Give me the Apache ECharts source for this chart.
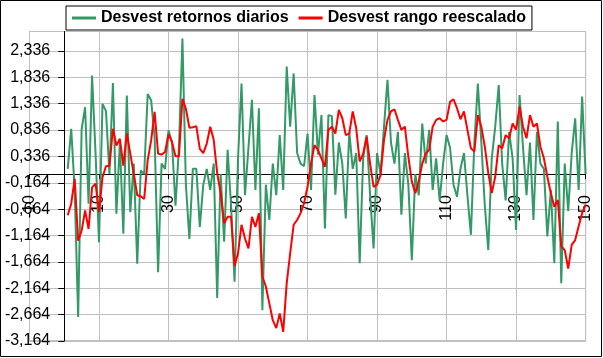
<!DOCTYPE html>
<html>
<head>
<meta charset="utf-8">
<script src="https://cdn.jsdelivr.net/npm/echarts@6/dist/echarts.min.js"></script>
<style>
html,body{margin:0;padding:0;background:#fff;}
#chart{width:603px;height:358px;}
</style>
</head>
<body>
<div id="chart"></div>
<script>
// Series names
var seriesNames = ["Desvest retornos diarios", "Desvest rango reescalado"];
// Observation numbers 1..150 are implicit (index + 1)
var retornos = [
 0.10, 0.86, -0.30, -2.71, 0.85, 1.27, -0.56, 1.87, 0.40, -1.29,
 1.33, 1.20, 0.00, 1.73, -0.75, 0.60, -1.13, 1.49, -0.72, 0.20,
 -1.70, 0.07, 0.00, 1.52, 1.40, 0.70, -1.86, 0.20, 0.10, 0.83,
 0.60, -0.60, 0.50, 2.57, -0.20, -1.23, 0.10, 0.10, -1.00, -0.20,
 0.10, -0.30, 0.20, -2.35, 0.00, -1.28, 0.46, -0.60, -2.04, 0.30,
 1.72, -0.40, 0.50, 1.41, -0.30, 1.25, -2.58, -0.20, -0.87, 0.20,
 -0.40, 0.74, -0.30, 2.04, 0.90, 1.91, 0.40, 0.20, 0.15, 0.77,
 -0.30, 1.50, 0.37, 1.12, -1.03, 1.12, 1.10, -0.39, 0.60, 0.20,
 -0.84, 0.80, 0.10, 0.40, -1.69, 0.30, 0.74, -0.40, -1.41, 0.40,
 0.00, 0.90, 1.79, 0.60, 0.20, 0.80, -0.77, 0.40, -0.20, -1.63,
 0.00, -0.40, 0.96, 0.20, 0.84, -0.30, 0.30, -0.50, 0.20, 0.74,
 0.50, -0.20, -0.43, 0.10, 0.40, -0.40, -1.15, 0.60, 1.72, 0.60,
 -0.60, -1.44, 0.30, 0.90, 1.69, 0.20, -0.50, 0.80, 0.30, -1.06,
 1.50, 0.50, -0.40, 0.60, -0.87, 0.80, 0.20, 0.10, -1.18, -0.30,
 -1.69, 1.00, -2.07, 0.20, -0.70, 0.40, 1.06, -0.30, 1.47, 0.00
];
var rango = [
 -0.78, -0.56, -0.09, -1.26, -1.07, -0.69, -1.04, -0.25, -0.18, -0.72,
 -0.06, 0.15, 0.16, 0.86, 0.54, 0.67, 0.16, 0.77, 0.39, 0.00,
 -0.40, -0.42, -0.47, 0.26, 0.64, 1.18, 0.39, 0.37, 0.42, 0.76,
 0.61, 0.34, 0.34, 1.43, 1.24, 0.88, 0.89, 0.91, 0.48, 0.40,
 0.58, 0.90, 0.65, 0.02, -0.36, -0.93, -0.81, -0.81, -1.74, -1.50,
 -0.96, -1.22, -1.41, -0.81, -1.00, -0.74, -1.94, -2.13, -2.45, -2.77,
 -2.92, -2.64, -2.99, -2.07, -1.50, -0.96, -0.87, -0.74, -0.55, -0.24,
 0.20, 0.55, 0.46, 0.30, 0.14, 0.84, 0.90, 0.77, 1.22, 1.06,
 0.74, 0.77, 1.19, 0.87, 0.24, 0.39, 0.71, 0.20, -0.24, -0.20,
 -0.02, 0.65, 1.03, 1.19, 1.23, 1.03, 0.84, 0.90, 0.33, -0.14,
 -0.36, -0.14, 0.20, 0.39, 0.46, 0.90, 1.03, 1.06, 1.00, 1.03,
 1.37, 1.42, 1.25, 1.04, 1.19, 0.84, 0.49, 0.43, 1.12, 0.90,
 0.52, 0.02, -0.36, -0.05, 0.55, 0.49, 0.74, 0.68, 0.96, 0.84,
 1.28, 0.90, 0.68, 1.12, 0.90, 0.96, 0.52, 0.30, -0.05, -0.36,
 -0.62, -0.49, -1.37, -1.44, -1.79, -1.34, -1.25, -0.99, -0.74, -0.58
];
// Axis ticks
var xMin = -10, xMax = 150, xStep = 20;
var yMin = -3.164, yMax = 2.705, yStep = 0.5;

function pairs(arr){ return arr.map(function(v,i){ return [i+1, v]; }); }

// plot box (px)
var W = 603, H = 358;
var gLeft = 29.5, gRight = 585.6, gTop = 31.5, gBottom = 341;
// axes cross at zero: shift the axes from the grid edge to the zero line
var xZeroPx = gLeft + (0 - xMin) / (xMax - xMin) * (gRight - gLeft);
var yZeroPx = gBottom - (0 - yMin) / (yMax - yMin) * (gBottom - gTop);

var chart = echarts.init(document.getElementById('chart'), null, {renderer:'canvas'});
var font = "'Liberation Sans', Arial, sans-serif";
chart.setOption({
  animation:false,
  backgroundColor:'#ffffff',
  textStyle:{fontFamily:font},
  graphic:[{type:'rect', silent:true, z:100,
    shape:{x:0.5,y:0.5,width:601,height:356},
    style:{fill:'none', stroke:'#000', lineWidth:1}}],
  legend:{
    left:66, top:6, padding:[4,6,4,6], itemGap:10,
    itemWidth:24, itemHeight:3, icon:'rect',
    backgroundColor:'#fff', borderColor:'#000', borderWidth:1, borderRadius:0,
    textStyle:{fontFamily:font, fontSize:16, fontWeight:'bold', color:'#000'},
    data:seriesNames, z:10
  },
  grid:{left:gLeft, right:W - gRight, top:gTop, bottom:H - gBottom, show:true,
    borderColor:'#808080', borderWidth:1, backgroundColor:'#fff',
    containLabel:false, outerBoundsMode:'none'},
  xAxis:{
    type:'value', min:xMin, max:xMax, interval:xStep, position:'bottom',
    offset:-(gBottom - yZeroPx),
    axisLine:{onZero:false, lineStyle:{color:'#000', width:1}},
    axisTick:{show:true, length:5, lineStyle:{color:'#000'}},
    axisLabel:{rotate:90, margin:21, fontSize:16, color:'#000', fontFamily:font, showMinLabel:true, showMaxLabel:true},
    splitLine:{show:true, lineStyle:{color:'#c0c0c0', width:1}}
  },
  yAxis:{
    type:'value', min:yMin, max:yMax, interval:yStep, position:'left',
    offset:-(xZeroPx - gLeft),
    axisLine:{onZero:false, lineStyle:{color:'#000', width:1}},
    axisTick:{show:true, length:6, lineStyle:{color:'#000'}},
    axisLabel:{margin:14, fontSize:16, color:'#000', fontFamily:font, showMaxLabel:false,
      formatter:function(v){ return v.toFixed(3).replace('.', ','); }},
    splitLine:{show:true, lineStyle:{color:'#c0c0c0', width:1}}
  },
  series:[
    {name:seriesNames[0], type:'line', data:pairs(retornos), showSymbol:false, symbol:'none',
     lineStyle:{color:'#339966', width:2}, itemStyle:{color:'#339966'}, z:2},
    {name:seriesNames[1], type:'line', data:pairs(rango), showSymbol:false, symbol:'none',
     lineStyle:{color:'#ff0000', width:2}, itemStyle:{color:'#ff0000'}, z:3}
  ]
});
</script>
</body>
</html>
